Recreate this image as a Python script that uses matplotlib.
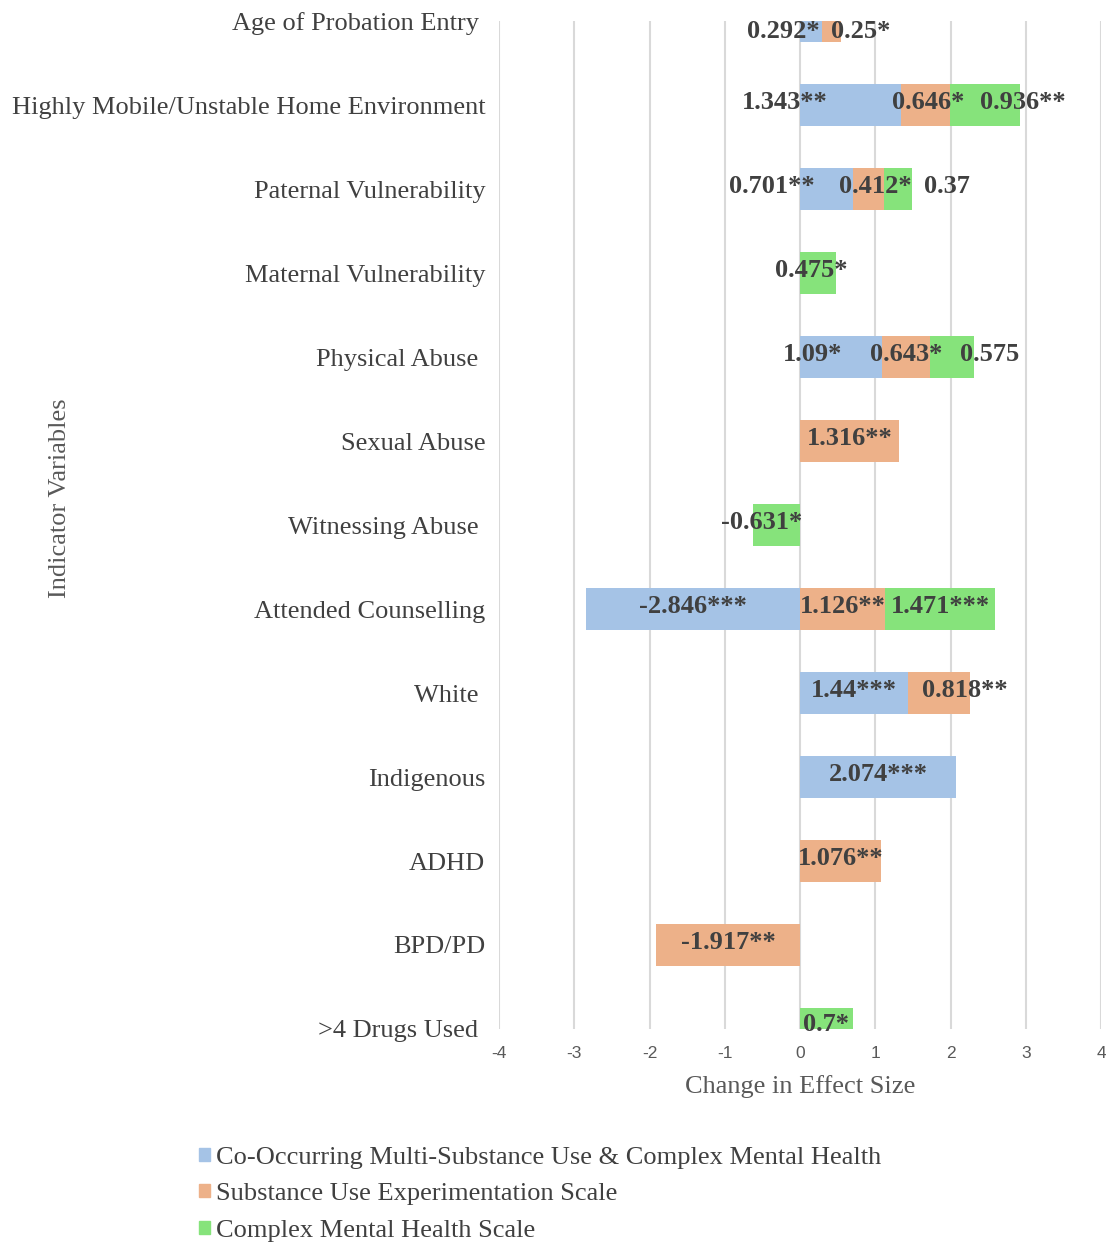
import matplotlib.pyplot as plt
from matplotlib.patches import Patch
import numpy as np

# категории и значения
categories = ["Age of Probation Entry ", "Highly Mobile/Unstable Home Environment",
              "Paternal Vulnerability", "Maternal Vulnerability", "Physical Abuse ",
              "Sexual Abuse", "Witnessing Abuse ", "Attended Counselling", "White ",
              "Indigenous", "ADHD", "BPD/PD", ">4 Drugs Used "]
series_names = ["Co-Occurring Multi-Substance Use & Complex Mental Health",
                "Substance Use Experimentation Scale",
                "Complex Mental Health Scale"]
co_occurring = [0.292, 1.343, 0.701, 0, 1.09, 0, 0, -2.846, 1.44, 2.074, 0, 0, 0]
experimentation = [0.25, 0.646, 0.412, 0, 0.643, 1.316, 0, 1.126, 0.818, 0, 1.076, -1.917, 0]
mental_health = [0, 0.936, 0.37, 0.475, 0.575, 0, -0.631, 1.471, 0, 0, 0, 0, 0.7]
co_labels = ["0.292*", "1.343**", "0.701**", "", "1.09*", "", "", "-2.846***", "1.44***",
             "2.074***", "", "", ""]
exp_labels = ["0.25*", "0.646*", "0.412*", "", "0.643*", "1.316**", "", "1.126**", "0.818**",
              "", "1.076**", "-1.917**", ""]
mh_labels = ["", "0.936**", "0.37", "0.475*", "0.575", "", "-0.631*", "1.471***", "", "",
             "", "", "0.7*"]
colors = ["#A5C3E6", "#EDB189", "#86E37B"]

# смещения подписей (как в оригинале, некоторые сдвинуты вручную)
label_shift = {(0, 0): -0.37, (0, 1): 0.39, (1, 0): -0.88, (1, 1): 0.04, (1, 2): 0.5,
               (2, 0): -0.72, (2, 1): 0.1, (2, 2): 0.65, (3, 2): -0.09, (4, 0): -0.385,
               (4, 1): 0.0, (4, 2): 0.5, (6, 2): -0.2, (8, 1): 0.34}

plt.rcParams['font.family'] = ['Liberation Serif', 'DejaVu Serif']
fig = plt.figure(figsize=(11.06, 12.45), dpi=100)
ax = fig.add_axes([0.4512, 0.1735, 0.5443, 0.8096])

y = np.arange(len(categories))
pos = np.zeros(len(categories))
neg = np.zeros(len(categories))
all_series = [co_occurring, experimentation, mental_health]
all_labels = [co_labels, exp_labels, mh_labels]

for s, (vals, labs) in enumerate(zip(all_series, all_labels)):
    vals = np.array(vals, dtype=float)
    left = np.where(vals >= 0, pos, neg)
    ax.barh(y, vals, left=left, height=0.5, color=colors[s], zorder=2)
    for i, v in enumerate(vals):
        if labs[i] == "":
            continue
        cx = left[i] + v / 2 + label_shift.get((i, s), 0)
        cy = y[i] - 0.03
        if i == 0:
            cy += 0.16
        if i == len(categories) - 1:
            cy -= 0.02
        ax.text(cx, cy, labs[i], ha='center', va='center', fontsize=19,
                fontweight='bold', color='#404040', zorder=3)
    pos = np.where(vals > 0, pos + vals, pos)
    neg = np.where(vals < 0, neg + vals, neg)

ax.set_xlim(-4, 4)
ax.set_ylim(len(categories) - 1, 0)
ax.set_xticks(range(-4, 5))
ax.set_xticklabels([str(t) for t in range(-4, 5)], family='Liberation Sans',
                   fontsize=12.5, color='#595959')
ax.set_yticks(y)
ax.set_yticklabels(categories, fontsize=19, color='#404040')
ax.tick_params(axis='both', length=0)
ax.tick_params(axis='y', pad=10)
ax.tick_params(axis='x', pad=12)
ax.grid(axis='x', color='#D9D9D9', linewidth=1.5, zorder=0)
for sp in ax.spines.values():
    sp.set_visible(False)

ax.set_xlabel("Change in Effect Size", fontsize=19, color='#595959', labelpad=10)
fig.text(0.054, 0.6, "Indicator Variables", rotation=90, fontsize=19,
         color='#595959', ha='center', va='center')

handles = [Patch(color=c) for c in colors]
fig.legend(handles, series_names, loc='upper left', bbox_to_anchor=(0.1585, 0.098),
           frameon=False, fontsize=19, handlelength=0.4, handleheight=0.4,
           handletextpad=0.25, labelspacing=0.55, labelcolor='#404040')

fig.savefig("out.png", dpi=100)
